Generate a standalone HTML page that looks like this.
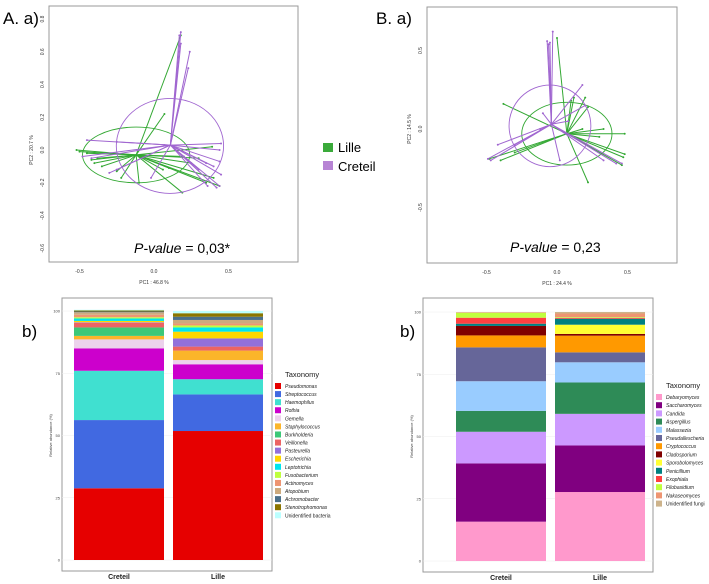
<!DOCTYPE html>
<html><head><meta charset="utf-8"><style>
body{margin:0;background:#fff;width:709px;height:584px;overflow:hidden;font-family:"Liberation Sans",sans-serif}
svg{position:absolute;left:0;top:0}
</style></head><body>
<svg id="fig" width="709" height="584" xmlns="http://www.w3.org/2000/svg">
<text x="3" y="24" font-size="17">A. a)</text>
<text x="376" y="24" font-size="17">B. a)</text>
<text x="22" y="337" font-size="17">b)</text>
<text x="400" y="337" font-size="17">b)</text>
<g>
<rect x="323" y="143" width="10" height="9" fill="#3aaa3a"/>
<text x="338" y="152" font-size="13">Lille</text>
<rect x="323" y="161" width="10" height="9" fill="#b784d4"/>
<text x="338" y="171" font-size="13">Creteil</text>
</g>
</svg>
<script>
const svg=document.getElementById('fig');const NS='http://www.w3.org/2000/svg';
function mk(t,a,p){const e=document.createElementNS(NS,t);for(const k in a)e.setAttribute(k,a[k]);(p||svg).appendChild(e);return e;}
const GREEN='#33a833',PURPLE='#a066d0';
// PCA A data
const pcaA_lille=[[-0.52,0],[-0.5,-0.01],[-0.45,-0.02],[-0.42,-0.06],[-0.4,-0.08],[-0.38,-0.05],[-0.35,-0.1],[-0.22,-0.17],[-0.1,-0.2],[0.07,0.22],[0.18,0.7],[0.19,-0.26],[0.1,-0.11],[0.39,0.02],[0.35,-0.2],[0.4,-0.17],[0.44,-0.22],[0.3,-0.05],[0.25,-0.08],[0.2,-0.04],[-0.25,-0.13],[0.06,-0.12]];
const pcaA_creteil=[[0.18,0.72],[0.17,0.7],[0.24,0.6],[0.23,0.5],[0.18,0.65],[-0.45,0.06],[-0.48,-0.04],[-0.42,-0.05],[-0.3,-0.14],[-0.25,-0.12],[-0.02,-0.17],[0.45,0.04],[0.44,0],[0.44,-0.07],[0.45,-0.15],[0.44,-0.22],[0.42,-0.23],[0.36,-0.22],[0.4,-0.1],[0.35,-0.08],[0.3,-0.12],[0.07,0.03],[-0.25,0.05]];
const pcaA_centroids=[[-0.12,-0.03],[0.11,0.03]];
const pcaA_ellipses=[[-0.12,-0.03,0.36,0.17],[0.107,0.025,0.36,0.29]];
const pcaA_xticks=[-0.5,0,0.5];const pcaA_yticks=[0.8,0.6,0.4,0.2,0,-0.2,-0.4,-0.6];
// PCA B data
const pcaB_lille=[[0.0,0.58],[-0.38,0.16],[-0.48,-0.19],[-0.4,-0.2],[-0.3,-0.15],[0.12,0.2],[0.2,0.2],[0.22,0.14],[0.22,-0.34],[0.33,0.0],[0.48,-0.03],[0.48,-0.16],[0.47,-0.18],[0.46,-0.23],[0.3,-0.05],[0.18,0.0],[0.1,0.18]];
const pcaB_creteil=[[-0.07,0.56],[-0.06,0.54],[-0.03,0.62],[-0.05,0.55],[0.18,0.28],[0.2,0.15],[-0.42,-0.1],[-0.49,-0.19],[-0.47,-0.2],[-0.3,-0.1],[-0.12,0.0],[0.33,-0.2],[0.42,-0.22],[0.46,-0.22],[0.08,0.05],[0.02,-0.2],[-0.1,0.1]];
const pcaB_centroids=[[0.07,-0.03],[-0.04,0.03]];
const pcaB_ellipses=[[0.07,-0.03,0.32,0.2],[-0.05,0.02,0.29,0.26]];
const pcaB_xticks=[-0.5,0,0.5];const pcaB_yticks=[0.5,0,-0.5];

function pca(o){
  const g=mk('g',{});
  
  
  const X=v=>o.x0+v*o.kx, Y=v=>o.y0-v*o.ky;
  const r=mk('rect',{x:o.bx,y:o.by,width:o.bw,height:o.bh,fill:'none',stroke:'#999','stroke-width':1},g);
  
  o.xt.forEach(t=>{const e=mk('text',{x:X(t),y:o.by+o.bh+11,'font-size':5,'text-anchor':'middle',fill:'#333'},g);e.textContent=t.toFixed(1);
    });
  o.yt.forEach(t=>{const e=mk('text',{x:o.bx-5,y:Y(t),'font-size':5,'text-anchor':'middle',fill:'#333',transform:`rotate(-90 ${o.bx-5} ${Y(t)})`},g);e.textContent=t.toFixed(1);
    });
  let e=mk('text',{x:X(0),y:o.by+o.bh+22,'font-size':5,'text-anchor':'middle',fill:'#333'},g);e.textContent=o.xl;
  
  e=mk('text',{x:o.bx-16,y:Y(0),'font-size':5,'text-anchor':'middle',fill:'#333',transform:`rotate(-90 ${o.bx-16} ${Y(0)})`},g);e.textContent=o.yl;
  
  [[o.g,GREEN,'lille',0],[o.p,PURPLE,'creteil',1]].forEach(([pts,c,n,i])=>{
    const [cx,cy]=o.c[i];const el_=o.e[i];
    const el=mk('ellipse',{cx:X(el_[0]),cy:Y(el_[1]),rx:el_[2]*o.kx,ry:el_[3]*o.ky,fill:'none',stroke:c,'stroke-width':0.9},g);
    
    pts.forEach(p=>{const l=mk('line',{x1:X(cx),y1:Y(cy),x2:X(p[0]),y2:Y(p[1]),stroke:c,'stroke-width':1},g);
      
      const d=mk('circle',{cx:X(p[0]),cy:Y(p[1]),r:1,fill:c},g);
      });
  });
  e=mk('text',{x:o.pvx,y:o.pvy,'font-size':14,fill:'#000'},g);
  e.innerHTML='<tspan font-style="italic">P-value</tspan> = '+o.pv;
  
}
pca({name:'pca-bacteria',bx:49,by:6,bw:249,bh:256,x0:154,kx:149,y0:150,ky:163.75,xt:pcaA_xticks,yt:pcaA_yticks,xl:'PC1 :  46.8 %',yl:'PC2 :  20.7 %',g:pcaA_lille,p:pcaA_creteil,c:pcaA_centroids,e:pcaA_ellipses,pv:'0,03*',pvx:134,pvy:253});
pca({name:'pca-fungi',bx:427,by:7,bw:250,bh:256,x0:557,kx:141,y0:129,ky:157,xt:pcaB_xticks,yt:pcaB_yticks,xl:'PC1 :  24.4 %',yl:'PC2 :  14.5 %',g:pcaB_lille,p:pcaB_creteil,c:pcaB_centroids,e:pcaB_ellipses,pv:'0,23',pvx:510,pvy:252});

// Bar chart data
const sites=['Creteil','Lille'];
const bacTaxa=['Pseudomonas','Streptococcus','Haemophilus','Rothia','Gemella','Staphylococcus','Burkholderia','Veillonella','Pasteurella','Escherichia','Leptotrichia','Fusobacterium','Actinomyces','Atopobium','Achromobacter','Stenotrophomonas','Unidentified bacteria'];
const bacColors=['#e60000','#4169e1','#40e0d0','#cc00cc','#ecd2ec','#fbb52a','#3cc878','#ec6464','#9370db','#ffd700','#00e5ee','#bfff3e','#ee9572','#cdaa7d','#4a708b','#8b7500','#bbffff'];
const bacCreteil=[28.8,27.4,19.8,9,3.6,1.4,3.4,1.9,0.2,0.5,1,0.5,1,1,0.3,0.4,0.3];
const bacLille=[51.8,14.7,6.1,6,1.7,3.8,0,1.6,3.3,2.7,1.7,0.8,0.8,1.4,1.3,1.4,0.9];
const funTaxa=['Debaryomyces','Saccharomyces','Candida','Aspergillus','Malassezia','Pseudallescheria','Cryptococcus','Cladosporium','Sporobolomyces','Penicillium','Exophiala','Filobasidium','Nakaseomyces','Unidentified fungi'];
const funColors=['#ff99cc','#800080','#cc99ff','#2e8b57','#99ccff','#666699','#ff9900','#800000','#ffff33','#008080','#ff4040','#c0ff3e','#ee9572','#cdb38b'];
const funCreteil=[15.8,23.4,12.7,8.4,11.9,13.6,4.8,3.8,0,0.9,2.4,2.0,0.2,0.1];
const funLille=[27.7,18.7,12.7,12.6,8.1,4,6.7,0.7,3.7,2.4,0.3,0.3,1.5,0.6];
const barTicks=[0,25,50,75,100];

function bars(o){
  const g=mk('g',{});
  
  
  const Y=v=>o.y0-(v/100)*(o.y0-o.y100);
  const r=mk('rect',{x:o.bx,y:o.by,width:o.bw,height:o.bh,fill:'#fff',stroke:'#999','stroke-width':1},g);
  
  barTicks.forEach(t=>{const l=mk('line',{x1:o.bx,x2:o.bx+o.bw,y1:Y(t),y2:Y(t),stroke:'#eee','stroke-width':0.5},g);
    
    const e=mk('text',{x:o.bx-2,y:Y(t)+1.5,'font-size':4,'text-anchor':'end',fill:'#444'},g);e.textContent=t;
    });
  let e=mk('text',{x:o.bx-10,y:Y(50),'font-size':4,'text-anchor':'middle',fill:'#444',transform:`rotate(-90 ${o.bx-10} ${Y(50)})`},g);
  e.textContent='Relative abundance (%)';
  [o.a,o.b].forEach((vals,i)=>{
    let acc=0;const x=o.xs[i];
    vals.forEach((v,j)=>{const rr=mk('rect',{x:x,y:Y(acc+v),width:o.w,height:Math.max(0,Y(acc)-Y(acc+v)),fill:o.colors[j]},g);
      acc+=v;});
    const t=mk('text',{x:x+o.w/2,y:o.by+o.bh+8,'font-size':7,'text-anchor':'middle',fill:'#222','font-weight':'bold'},g);t.textContent=sites[i];
    
  });
  e=mk('text',{x:o.lx,y:o.ly,'font-size':7.5,fill:'#222'},g);e.textContent='Taxonomy';
  
  o.taxa.forEach((n,j)=>{const y=o.ly+6+j*o.ls;
    const s=mk('rect',{x:o.lx-10,y:y,width:6,height:6,fill:o.colors[j]},g);
    const t=mk('text',{x:o.lx,y:y+5,'font-size':5,fill:'#222','font-style':n.startsWith('Unidentified')?'normal':'italic'},g);t.textContent=n;
    });
}
bars({name:'bacteria-bar-chart',bx:62,by:298,bw:210,bh:273,y0:560,y100:311,xs:[74,173],w:90,a:bacCreteil,b:bacLille,taxa:bacTaxa,colors:bacColors,lx:285,ly:377,ls:8.08});
bars({name:'fungi-bar-chart',bx:423,by:298,bw:230,bh:274,y0:561,y100:312,xs:[456,555],w:90,a:funCreteil,b:funLille,taxa:funTaxa,colors:funColors,lx:666,ly:388,ls:8.2});
</script>
</body></html>
